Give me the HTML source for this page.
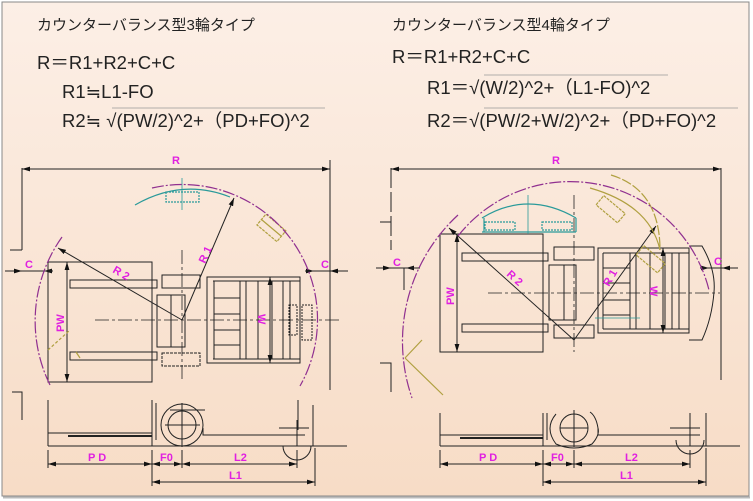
<!DOCTYPE html>
<html><head><meta charset="utf-8"><style>
html,body{margin:0;padding:0;width:753px;height:501px;overflow:hidden;background:#fff}
svg{display:block}
.t{font-family:"Liberation Sans","Noto Sans CJK JP",sans-serif;fill:#222}
.m{font-family:"Liberation Sans",sans-serif;font-weight:bold;fill:#e020e0;font-size:11px}
</style></head><body>
<svg width="753" height="501" viewBox="0 0 753 501" xmlns="http://www.w3.org/2000/svg">
<defs>
<linearGradient id="bg" x1="0" y1="0" x2="0" y2="1">
<stop offset="0" stop-color="#fcefe6"/><stop offset="1" stop-color="#f7dcc6"/></linearGradient>
<marker id="a" viewBox="0 0 10 6" refX="10" refY="3" markerWidth="8" markerHeight="5" orient="auto-start-reverse"><path d="M0,0L10,3L0,6z" fill="#111"/></marker>
</defs>
<rect x="0" y="0" width="753" height="501" fill="#fff"/>
<rect x="2" y="2" width="747" height="494" fill="url(#bg)" stroke="#888" stroke-width="1"/>
<line x1="3" y1="497.5" x2="750" y2="497.5" stroke="#bbb" stroke-width="2"/>

<!-- texts -->
<text class="t" x="37" y="30" font-size="15">カウンターバランス型3輪タイプ</text>
<text class="t" x="37" y="69" font-size="18.5">R＝R1+R2+C+C</text>
<text class="t" x="62" y="98" font-size="18.5">R1≒L1-FO</text>
<text class="t" x="62" y="127" font-size="18.5">R2≒ √(PW/2)^2+（PD+FO)^2</text>
<line x1="112" y1="108" x2="325" y2="108" stroke="#999" stroke-width="0.8"/>
<text class="t" x="392" y="30" font-size="15">カウンターバランス型4輪タイプ</text>
<text class="t" x="392" y="63" font-size="18.5">R＝R1+R2+C+C</text>
<text class="t" x="427" y="94" font-size="18.5">R1＝√(W/2)^2+（L1-FO)^2</text>
<line x1="484" y1="75" x2="668" y2="75" stroke="#999" stroke-width="0.8"/>
<text class="t" x="427" y="127" font-size="18.5">R2＝√(PW/2+W/2)^2+（PD+FO)^2</text>
<line x1="484" y1="108" x2="738" y2="108" stroke="#999" stroke-width="0.8"/>

<g stroke="#222" stroke-width="1" fill="none">
<!-- LEFT DRAWING -->
<line x1="22" y1="169" x2="330" y2="169" marker-start="url(#a)" marker-end="url(#a)"/>
<line x1="22" y1="168" x2="22" y2="250"/><line x1="10" y1="250" x2="22" y2="250"/>
<line x1="330" y1="160" x2="330" y2="390"/>
<path d="M12,392H22V420"/>
<rect x="48" y="262" width="104" height="120"/>
<rect x="70" y="280" width="87" height="8"/><rect x="70" y="352" width="87" height="8"/>
<rect x="157" y="295" width="28" height="52"/><line x1="171" y1="295" x2="171" y2="347"/>
<rect x="162" y="275" width="38" height="13"/><rect x="162" y="353" width="38" height="13" stroke-dasharray="3,1"/>
<rect x="207" y="277" width="93" height="86"/>
<line x1="213" y1="281" x2="300" y2="281"/><line x1="213" y1="359" x2="300" y2="359"/>
<line x1="214" y1="281" x2="214" y2="359"/><line x1="240" y1="281" x2="240" y2="359"/><line x1="246" y1="281" x2="246" y2="359"/>
<line x1="258" y1="281" x2="258" y2="359"/><line x1="272" y1="281" x2="272" y2="359"/><line x1="283" y1="281" x2="283" y2="359"/><line x1="290" y1="281" x2="290" y2="359"/>
<line x1="214" y1="298" x2="240" y2="298"/><line x1="214" y1="314" x2="240" y2="314"/><line x1="214" y1="330" x2="240" y2="330"/><line x1="214" y1="345" x2="240" y2="345"/>
<rect x="289" y="305" width="8" height="30" stroke-dasharray="2,1"/><rect x="302" y="305" width="10" height="35" stroke-dasharray="2,1"/>
<line x1="95" y1="320" x2="340" y2="320" stroke-dasharray="14,3,3,3" stroke-width="0.8"/>
<line x1="182" y1="250" x2="182" y2="380" stroke-dasharray="14,3,3,3" stroke-width="0.8"/>
<line x1="182" y1="320" x2="234" y2="198" marker-end="url(#a)"/>
<line x1="182" y1="320" x2="58" y2="248" marker-end="url(#a)"/>
<line x1="67" y1="262" x2="67" y2="382" marker-start="url(#a)" marker-end="url(#a)"/>
<line x1="270" y1="277" x2="270" y2="363" marker-start="url(#a)" marker-end="url(#a)"/>
<line x1="5" y1="271" x2="22" y2="271" marker-end="url(#a)"/><line x1="53" y1="271" x2="44" y2="271" marker-end="url(#a)"/><line x1="22" y1="271" x2="53" y2="271"/>
<line x1="348" y1="271" x2="330" y2="271" marker-end="url(#a)"/><line x1="305" y1="271" x2="314" y2="271" marker-end="url(#a)"/><line x1="305" y1="271" x2="330" y2="271"/>
<!-- side -->
<line x1="48" y1="446" x2="347" y2="446"/><line x1="48" y1="433" x2="152" y2="433"/>
<line x1="48" y1="400" x2="48" y2="446"/><line x1="68" y1="436" x2="152" y2="436" stroke-width="2"/>
<line x1="152" y1="400" x2="152" y2="446"/><line x1="156" y1="403" x2="156" y2="440"/>
<circle cx="182" cy="425" r="21"/><circle cx="182" cy="425" r="14"/>
<line x1="182" y1="403" x2="182" y2="447"/><line x1="165" y1="425" x2="200" y2="425"/>
<path d="M203,428V435H305M205,410H170"/>
<path d="M283,446A14,14 0 0 0 311,446M279,428H309M297,420V446M298,400V430M313,405V446"/>
<line x1="48" y1="464" x2="152" y2="464" marker-start="url(#a)" marker-end="url(#a)"/>
<line x1="152" y1="464" x2="182" y2="464" marker-start="url(#a)" marker-end="url(#a)"/>
<line x1="182" y1="464" x2="297" y2="464" marker-start="url(#a)" marker-end="url(#a)"/>
<line x1="152" y1="482" x2="315" y2="482" marker-start="url(#a)" marker-end="url(#a)"/>
<line x1="48" y1="450" x2="48" y2="468"/><line x1="152" y1="450" x2="152" y2="486"/><line x1="182" y1="450" x2="182" y2="468"/><line x1="297" y1="450" x2="297" y2="468"/><line x1="315" y1="448" x2="315" y2="486"/>

<!-- RIGHT DRAWING -->
<line x1="391" y1="169" x2="721" y2="169" marker-start="url(#a)" marker-end="url(#a)"/>
<line x1="391" y1="168" x2="391" y2="250" stroke-dasharray="20,4"/><line x1="380" y1="222" x2="391" y2="222"/>
<line x1="721" y1="168" x2="721" y2="380"/>
<path d="M380,363H391V392"/>
<rect x="440" y="234" width="103" height="118"/>
<rect x="462" y="253" width="86" height="8"/><rect x="462" y="324" width="86" height="8"/>
<rect x="549" y="265" width="27" height="55"/><line x1="564" y1="265" x2="564" y2="320"/>
<rect x="554" y="247" width="40" height="13"/><rect x="554" y="325" width="40" height="13"/>
<rect x="598" y="248" width="91" height="85"/>
<line x1="603" y1="253" x2="689" y2="253"/><line x1="603" y1="329" x2="689" y2="329"/>
<line x1="603" y1="253" x2="603" y2="329"/><line x1="630" y1="253" x2="630" y2="329"/><line x1="636" y1="253" x2="636" y2="329"/>
<line x1="650" y1="253" x2="650" y2="329"/><line x1="665" y1="253" x2="665" y2="329"/><line x1="672" y1="253" x2="672" y2="329"/><line x1="679" y1="253" x2="679" y2="329"/>
<line x1="603" y1="268" x2="630" y2="268"/><line x1="603" y1="283" x2="630" y2="283"/><line x1="603" y1="300" x2="630" y2="300"/><line x1="603" y1="315" x2="630" y2="315"/>
<path d="M689,246H702Q716,270 714,292Q712,318 702,340H689"/>
<line x1="488" y1="293" x2="720" y2="293" stroke-dasharray="14,3,3,3" stroke-width="0.8"/>
<line x1="574" y1="195" x2="574" y2="352" stroke-dasharray="14,3,3,3" stroke-width="0.8"/>
<line x1="574" y1="340" x2="449" y2="228" marker-end="url(#a)"/>
<line x1="574" y1="340" x2="656" y2="226" marker-end="url(#a)"/>
<line x1="457" y1="234" x2="457" y2="352" marker-start="url(#a)" marker-end="url(#a)"/>
<line x1="663" y1="248" x2="663" y2="333" marker-start="url(#a)" marker-end="url(#a)"/>
<line x1="376" y1="268" x2="391" y2="268" marker-end="url(#a)"/><line x1="420" y1="268" x2="406" y2="268" marker-end="url(#a)"/><line x1="391" y1="268" x2="420" y2="268"/><line x1="404" y1="268" x2="404" y2="290"/>
<line x1="738" y1="268" x2="722" y2="268" marker-end="url(#a)"/><line x1="700" y1="268" x2="709" y2="268" marker-end="url(#a)"/><line x1="700" y1="268" x2="722" y2="268"/>
<!-- side -->
<line x1="440" y1="446" x2="740" y2="446"/><line x1="440" y1="435" x2="543" y2="435"/>
<line x1="440" y1="413" x2="440" y2="446"/><line x1="460" y1="438" x2="543" y2="438" stroke-width="2"/>
<line x1="543" y1="413" x2="543" y2="446"/><line x1="547" y1="413" x2="547" y2="440"/>
<circle cx="574" cy="428" r="14"/><path d="M556,414Q544,428 556,444Q574,452 592,444Q600,435 598,428M590,412Q596,416 598,428"/>
<line x1="574" y1="410" x2="574" y2="447"/><line x1="560" y1="428" x2="588" y2="428"/>
<path d="M598,428V435H700"/>
<path d="M676,440A14,14 0 0 0 704,440M670,428H700M690,413V446M706,413V446"/>
<line x1="440" y1="464" x2="543" y2="464" marker-start="url(#a)" marker-end="url(#a)"/>
<line x1="543" y1="464" x2="574" y2="464" marker-start="url(#a)" marker-end="url(#a)"/>
<line x1="574" y1="464" x2="690" y2="464" marker-start="url(#a)" marker-end="url(#a)"/>
<line x1="543" y1="482" x2="706" y2="482" marker-start="url(#a)" marker-end="url(#a)"/>
<line x1="440" y1="450" x2="440" y2="468"/><line x1="543" y1="450" x2="543" y2="486"/><line x1="574" y1="450" x2="574" y2="468"/><line x1="690" y1="450" x2="690" y2="468"/><line x1="706" y1="448" x2="706" y2="486"/>
</g>

<!-- colored arcs -->
<g fill="none" stroke-width="1.2">
<path d="M135,205Q182,178 230,197" stroke="#2a9a9a"/>
<rect x="166" y="192" width="33" height="10" stroke="#2a9a9a" stroke-dasharray="2,1"/>
<line x1="182" y1="178" x2="182" y2="210" stroke="#2a9a9a" stroke-width="0.8"/>
<g transform="rotate(40 270 228)"><rect x="258" y="220" width="26" height="14" stroke="#b0a040" stroke-dasharray="3,1"/><line x1="258" y1="227" x2="284" y2="227" stroke="#b0a040"/></g>
<path d="M152,188A135,135 0 0 1 300,386" stroke="#903090" stroke-dasharray="12,2,2,2"/>
<path d="M62,237A145,145 0 0 0 50,385" stroke="#903090" stroke-dasharray="12,2,2,2"/>
<line x1="48" y1="350" x2="70" y2="330" stroke="#b0a040" stroke-dasharray="3,2"/>
<path d="M80,358l-4,-6" stroke="#b0a040"/>
<path d="M482,218Q528,190 576,218" stroke="#2a9a9a"/>
<path d="M484,218V232M576,218V232M482,232H576" stroke="#2a9a9a"/>
<rect x="485" y="222" width="30" height="8" stroke="#2a9a9a" stroke-dasharray="2,1"/>
<rect x="542" y="222" width="30" height="8" stroke="#2a9a9a" stroke-dasharray="2,1"/>
<line x1="528" y1="195" x2="528" y2="234" stroke="#2a9a9a" stroke-width="0.8"/>
<line x1="595" y1="318" x2="640" y2="318" stroke="#2a9a9a" stroke-width="0.8"/>
<path d="M590,188Q650,205 660,250" stroke="#b0a040"/>
<g transform="rotate(40 610 210)"><rect x="596" y="203" width="28" height="12" stroke="#b0a040" stroke-dasharray="3,1"/></g>
<g transform="rotate(40 650 260)"><rect x="636" y="253" width="28" height="12" stroke="#b0a040" stroke-dasharray="3,1"/></g>
<path d="M611,175Q660,190 660,250" stroke="#b0a040" stroke-dasharray="10,2"/>
<path d="M458,236A143,143 0 0 1 709,290" stroke="#903090" stroke-dasharray="12,2,2,2"/>
<path d="M458,215A172,172 0 0 0 412,398" stroke="#903090" stroke-dasharray="12,2,2,2"/>
<line x1="405" y1="358" x2="422" y2="340" stroke="#b0a040"/><line x1="405" y1="358" x2="443" y2="395" stroke="#b0a040"/>
</g>

<!-- magenta labels -->
<text class="m" x="172" y="164">R</text>
<text class="m" x="552" y="164">R</text>
<text class="m" x="25" y="268">C</text><text class="m" x="321" y="268">C</text>
<text class="m" x="393" y="266">C</text><text class="m" x="714" y="265">C</text>
<text class="m" transform="translate(205,264) rotate(-65)">R 1</text>
<text class="m" transform="translate(112,272) rotate(30)">R 2</text>
<text class="m" transform="translate(506,275) rotate(42)">R 2</text>
<text class="m" transform="translate(609,287) rotate(-60)">R 1</text>
<text class="m" transform="translate(64,332) rotate(-90)">PW</text>
<text class="m" transform="translate(454,305) rotate(-90)">PW</text>
<text class="m" transform="translate(258,314) rotate(90)">W</text>
<text class="m" transform="translate(650,286) rotate(90)">W</text>
<text class="m" x="88" y="461">P D</text><text class="m" x="160" y="461">F0</text><text class="m" x="234" y="461">L2</text><text class="m" x="229" y="479">L1</text>
<text class="m" x="479" y="461">P D</text><text class="m" x="551" y="461">F0</text><text class="m" x="625" y="461">L2</text><text class="m" x="620" y="479">L1</text>
</svg>
</body></html>
